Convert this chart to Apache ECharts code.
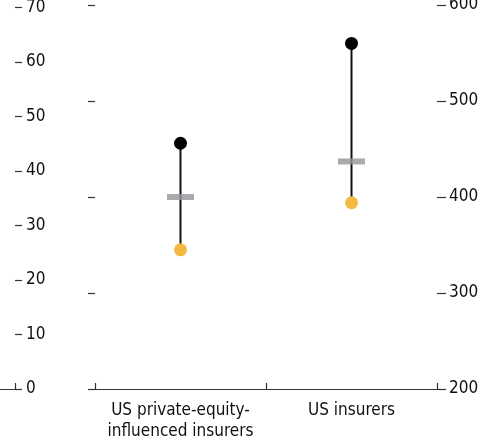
<!DOCTYPE html>
<html>
<head>
<meta charset="utf-8">
<script src="https://cdn.jsdelivr.net/npm/echarts@6/dist/echarts.min.js"></script>
<style>html,body{margin:0;padding:0;background:#fff;}#c{width:484px;height:440px;}</style>
</head>
<body>
<div id="c"></div>
<script>
var categories = ['US private-equity-\ninfluenced insurers', 'US insurers'];
var highValues = [456, 560];
var midValues = [400, 437];
var lowValues = [345, 394];
var rightTicks = [200, 300, 400, 500, 600];
var leftPanelTicks = [0, 10, 20, 30, 40, 50, 60, 70];

var FONT = '"DejaVu Sans Condensed", Roboto, sans-serif';
var txt = '#111';
var axisCol = '#333';

var chart = echarts.init(document.getElementById('c'), null, {renderer: 'canvas'});
chart.setOption({
  animation: false,
  grid: [
    {left: 95, right: 47, top: 5, bottom: 51, outerBoundsMode: 'none', containLabel: false},
    {left: -100, width: 115, top: 7.4, bottom: 51, outerBoundsMode: 'none', containLabel: false}
  ],
  xAxis: [
    {
      gridIndex: 0, type: 'category', data: categories, boundaryGap: true,
      axisLine: {show: true, lineStyle: {color: axisCol, width: 1.2}},
      axisTick: {show: true, inside: true, length: 6, interval: 0, lineStyle: {color: axisCol, width: 1.2}},
      axisLabel: {interval: 0, color: txt, fontFamily: FONT, fontSize: 17, lineHeight: 21, margin: 11}
    },
    {
      gridIndex: 1, type: 'category', data: [''], boundaryGap: true,
      axisLine: {show: true, lineStyle: {color: axisCol, width: 1.2}},
      axisTick: {show: true, inside: true, length: 6, interval: 0, lineStyle: {color: axisCol, width: 1.2}},
      axisLabel: {show: false}
    }
  ],
  yAxis: [
    {
      gridIndex: 0, type: 'value', position: 'left', min: 200, max: 600, interval: 100,
      axisLine: {show: false}, splitLine: {show: false},
      axisTick: {show: true, length: 7, lineStyle: {color: axisCol, width: 1.2}},
      axisLabel: {show: false}
    },
    {
      gridIndex: 0, type: 'value', position: 'right', min: 200, max: 600, interval: 100,
      axisLine: {show: false}, splitLine: {show: false},
      axisTick: {show: true, length: 9, lineStyle: {color: axisCol, width: 1.2}},
      axisLabel: {color: txt, fontFamily: FONT, fontSize: 17, margin: 12}
    },
    {
      gridIndex: 1, type: 'value', position: 'right', min: 0, max: 70, interval: 10,
      axisLine: {show: false}, splitLine: {show: false},
      axisTick: {show: true, length: 7, lineStyle: {color: axisCol, width: 1.2}},
      axisLabel: {color: txt, fontFamily: FONT, fontSize: 17, margin: 11}
    }
  ],
  series: [
    {
      type: 'custom', xAxisIndex: 0, yAxisIndex: 0,
      data: categories.map(function (c, i) { return [i, lowValues[i], highValues[i]]; }),
      renderItem: function (params, api) {
        var p1 = api.coord([api.value(0), api.value(1)]);
        var p2 = api.coord([api.value(0), api.value(2)]);
        return {type: 'line', shape: {x1: p1[0], y1: p1[1], x2: p2[0], y2: p2[1]},
                style: {stroke: '#111', lineWidth: 2}};
      },
      z: 1
    },
    {
      type: 'scatter', xAxisIndex: 0, yAxisIndex: 0, symbol: 'rect', symbolSize: [27, 6],
      itemStyle: {color: '#939598'},
      data: categories.map(function (c, i) { return [i, midValues[i]]; }), z: 2
    },
    {
      type: 'scatter', xAxisIndex: 0, yAxisIndex: 0, symbol: 'circle', symbolSize: 13,
      itemStyle: {color: '#000', opacity: 1},
      data: categories.map(function (c, i) { return [i, highValues[i]]; }), z: 3
    },
    {
      type: 'scatter', xAxisIndex: 0, yAxisIndex: 0, symbol: 'circle', symbolSize: 13,
      itemStyle: {color: '#f3b941', opacity: 1},
      data: categories.map(function (c, i) { return [i, lowValues[i]]; }), z: 3
    }
  ]
});
</script>
</body>
</html>
